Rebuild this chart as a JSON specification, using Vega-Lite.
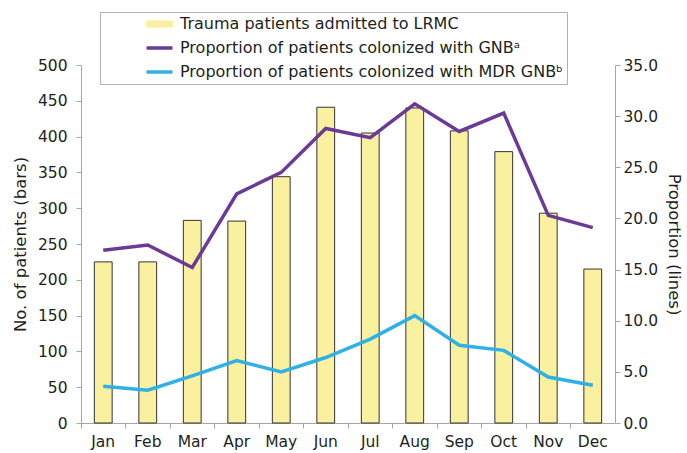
{
  "$schema": "https://vega.github.io/schema/vega-lite/v6.json",
  "autosize": "none",
  "width": 534,
  "height": 358,
  "padding": {"left": 81, "top": 65, "right": 72, "bottom": 30},
  "background": "white",
  "config": {
    "view": {"stroke": null},
    "font": "DejaVu Sans",
    "axis": {
      "labelFont": "DejaVu Sans",
      "titleFont": "DejaVu Sans",
      "labelFontSize": 15.5,
      "titleFontSize": 16.5,
      "titleFontWeight": "normal",
      "labelColor": "#231f20",
      "titleColor": "#231f20",
      "domainColor": "#a6a6a6",
      "tickColor": "#a6a6a6",
      "tickSize": 5,
      "grid": false
    }
  },
  "data": {
    "values": [
      {"month": "Jan", "series": "Trauma patients admitted to LRMC", "value": 225},
      {"month": "Feb", "series": "Trauma patients admitted to LRMC", "value": 225},
      {"month": "Mar", "series": "Trauma patients admitted to LRMC", "value": 283},
      {"month": "Apr", "series": "Trauma patients admitted to LRMC", "value": 282},
      {"month": "May", "series": "Trauma patients admitted to LRMC", "value": 344},
      {"month": "Jun", "series": "Trauma patients admitted to LRMC", "value": 441},
      {"month": "Jul", "series": "Trauma patients admitted to LRMC", "value": 405},
      {"month": "Aug", "series": "Trauma patients admitted to LRMC", "value": 440},
      {"month": "Sep", "series": "Trauma patients admitted to LRMC", "value": 408},
      {"month": "Oct", "series": "Trauma patients admitted to LRMC", "value": 379},
      {"month": "Nov", "series": "Trauma patients admitted to LRMC", "value": 293},
      {"month": "Dec", "series": "Trauma patients admitted to LRMC", "value": 215},
      {"month": "Jan", "series": "Proportion of patients colonized with GNBᵃ", "value": 16.9},
      {"month": "Feb", "series": "Proportion of patients colonized with GNBᵃ", "value": 17.4},
      {"month": "Mar", "series": "Proportion of patients colonized with GNBᵃ", "value": 15.2},
      {"month": "Apr", "series": "Proportion of patients colonized with GNBᵃ", "value": 22.4},
      {"month": "May", "series": "Proportion of patients colonized with GNBᵃ", "value": 24.5},
      {"month": "Jun", "series": "Proportion of patients colonized with GNBᵃ", "value": 28.8},
      {"month": "Jul", "series": "Proportion of patients colonized with GNBᵃ", "value": 27.9},
      {"month": "Aug", "series": "Proportion of patients colonized with GNBᵃ", "value": 31.2},
      {"month": "Sep", "series": "Proportion of patients colonized with GNBᵃ", "value": 28.5},
      {"month": "Oct", "series": "Proportion of patients colonized with GNBᵃ", "value": 30.3},
      {"month": "Nov", "series": "Proportion of patients colonized with GNBᵃ", "value": 20.3},
      {"month": "Dec", "series": "Proportion of patients colonized with GNBᵃ", "value": 19.1},
      {"month": "Jan", "series": "Proportion of patients colonized with MDR GNBᵇ", "value": 3.6},
      {"month": "Feb", "series": "Proportion of patients colonized with MDR GNBᵇ", "value": 3.2},
      {"month": "Mar", "series": "Proportion of patients colonized with MDR GNBᵇ", "value": 4.6},
      {"month": "Apr", "series": "Proportion of patients colonized with MDR GNBᵇ", "value": 6.1},
      {"month": "May", "series": "Proportion of patients colonized with MDR GNBᵇ", "value": 5.0},
      {"month": "Jun", "series": "Proportion of patients colonized with MDR GNBᵇ", "value": 6.4},
      {"month": "Jul", "series": "Proportion of patients colonized with MDR GNBᵇ", "value": 8.2},
      {"month": "Aug", "series": "Proportion of patients colonized with MDR GNBᵇ", "value": 10.5},
      {"month": "Sep", "series": "Proportion of patients colonized with MDR GNBᵇ", "value": 7.6},
      {"month": "Oct", "series": "Proportion of patients colonized with MDR GNBᵇ", "value": 7.1},
      {"month": "Nov", "series": "Proportion of patients colonized with MDR GNBᵇ", "value": 4.5},
      {"month": "Dec", "series": "Proportion of patients colonized with MDR GNBᵇ", "value": 3.7}
    ]
  },
  "encoding": {
    "x": {
      "field": "month",
      "type": "nominal",
      "sort": ["Jan","Feb","Mar","Apr","May","Jun","Jul","Aug","Sep","Oct","Nov","Dec"],
      "scale": {"paddingInner": 0, "paddingOuter": 0},
      "axis": {"title": null, "labelAngle": 0, "bandPosition": 0, "labelPadding": 6}
    },
    "color": {
      "field": "series",
      "type": "nominal",
      "scale": {
        "domain": ["Trauma patients admitted to LRMC", "Proportion of patients colonized with GNBᵃ", "Proportion of patients colonized with MDR GNBᵇ"],
        "range": ["#f9f1a0", "#6b3a96", "#2fb0e6"]
      },
      "legend": {
        "title": null,
        "orient": "none",
        "legendX": 19,
        "legendY": -53,
        "padding": 4,
        "fillColor": "white",
        "strokeColor": "#b0b0b0",
        "labelFont": "DejaVu Sans",
        "labelFontSize": 16,
        "labelColor": "#231f20",
        "labelLimit": 700,
        "symbolSize": 100,
        "symbolStrokeWidth": 3.5,
        "symbolOffset": 47.5,
        "labelOffset": 12.5,
        "rowPadding": 8,
        "encode": {
          "symbols": {
            "update": {
              "shape": {"signal": "datum.value === 'Trauma patients admitted to LRMC' ? 'M-2.6,-0.6H2.6V0.6H-2.6Z' : 'M-2.6,0H2.6'"},
              "fill": {"signal": "datum.value === 'Trauma patients admitted to LRMC' ? '#f9f1a0' : 'transparent'"},
              "stroke": [{"test": "datum.value === 'Trauma patients admitted to LRMC'", "value": "#333333"}, {"scale": "color", "field": "value"}],
              "strokeWidth": {"signal": "datum.value === 'Trauma patients admitted to LRMC' ? 1 : 3.5"},
              "strokeOpacity": {"value": 1},
              "fillOpacity": {"value": 1},
              "opacity": {"value": 1}
            }
          }
        }
      }
    }
  },
  "layer": [
    {
      "transform": [{"filter": "datum.series === 'Trauma patients admitted to LRMC'"}],
      "mark": {"type": "bar", "width": {"band": 0.4}, "stroke": "#333333", "strokeWidth": 1, "opacity": 1},
      "encoding": {
        "y": {
          "field": "value",
          "type": "quantitative",
          "scale": {"domain": [0, 500], "nice": false},
          "axis": {"title": "No. of patients (bars)", "values": [0,50,100,150,200,250,300,350,400,450,500], "labelPadding": 9, "titlePadding": 9}
        }
      }
    },
    {
      "transform": [{"filter": "datum.series !== 'Trauma patients admitted to LRMC'"}],
      "mark": {"type": "line", "strokeWidth": 3.5},
      "encoding": {
        "y": {
          "field": "value",
          "type": "quantitative",
          "scale": {"domain": [0, 35], "nice": false},
          "axis": {"title": "Proportion (lines)", "orient": "right", "format": ".1f", "values": [0,5,10,15,20,25,30,35], "labelPadding": 3, "titlePadding": 8}
        }
      }
    }
  ],
  "resolve": {"scale": {"y": "independent"}}
}
